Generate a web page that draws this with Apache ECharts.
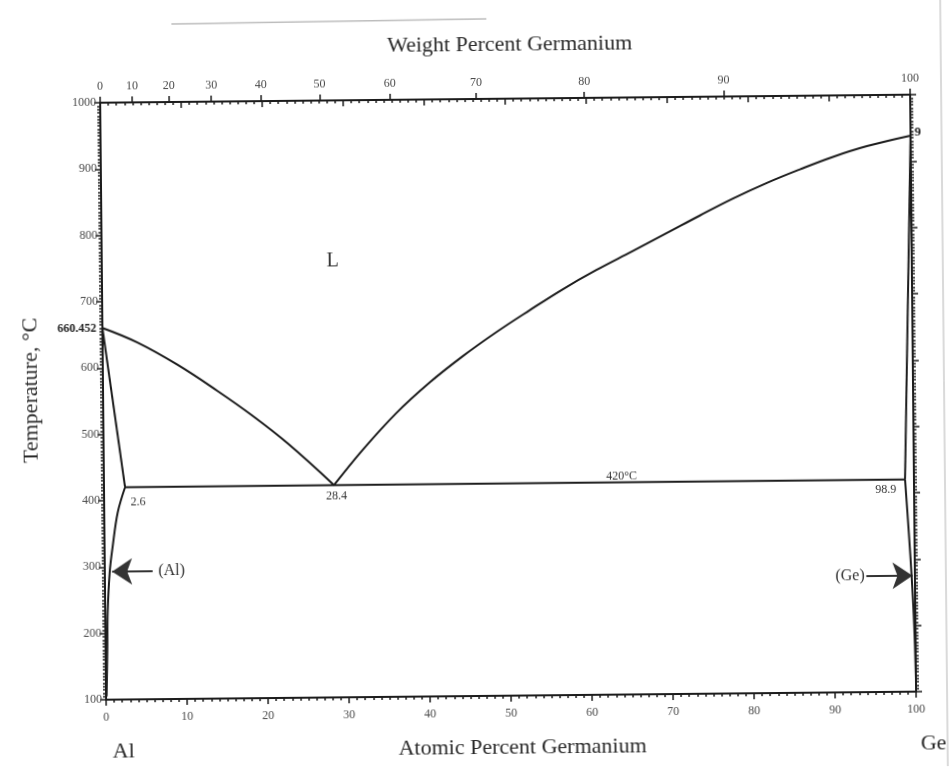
<!DOCTYPE html>
<html>
<head>
<meta charset="utf-8">
<title>Al-Ge phase diagram</title>
<script src="https://cdn.jsdelivr.net/npm/echarts@6/dist/echarts.min.js"></script>
<style>
  html, body { margin: 0; padding: 0; background: #fff; overflow: hidden; }
  #chart { width: 951px; height: 771px; transform: rotate(-0.57deg); transform-origin: 50% 50%; }
</style>
</head>
<body>
<div id="chart"></div>
<script>
// Al-Ge binary phase diagram: composition in atomic % Ge, temperature in degC.
const liquidusAl = [[0, 660.452], [4.3, 638], [9.2, 604], [14.1, 564], [18.3, 527], [22.7, 484], [28.4, 420]];
const liquidusGe = [[28.4, 420], [32.0, 473], [36.2, 528], [40.3, 573], [44.4, 612], [48.6, 648], [52.8, 681],
                    [56.9, 712], [61.0, 740], [65.5, 768], [69.8, 795], [73.9, 821], [78.0, 846], [82.2, 869],
                    [86.3, 889], [90.3, 907], [94.6, 923], [100, 938.3]];
const solidusAl = [[0, 660.452], [2.6, 420]];
const solvusAl = [[2.6, 420], [1.66, 382], [1.0, 331], [0.6, 292], [0.3, 231], [0.22, 180], [0.07, 105]];
const eutecticLine = [[2.6, 420], [98.9, 420]];
const solidusGe = [[100, 938.3], [98.9, 420]];
const solvusGe = [[98.9, 420], [99.3, 340], [99.6, 273], [99.85, 200], [100, 120]];

// arrows pointing to the terminal solid solutions
const arrowAl = [[5.9, 293], [0.9, 293]];
const arrowGe = [[94.0, 275], [99.7, 275]];

// tick values of the upper (weight percent) scale
const weightTicks = [0, 10, 20, 30, 40, 50, 60, 70, 80, 90, 100];

// text notes placed in data coordinates [at.% Ge, degC]
const notes = [
  { text: 'L', at: [28.5, 757], size: 20, align: 'center' },
  { text: '2.6', at: [3.27, 396.7], size: 12, align: 'left' },
  { text: '28.4', at: [28.7, 404], size: 12, align: 'center' },
  { text: '98.9', at: [97.8, 404.8], size: 12, align: 'right' },
  { text: '420°C', at: [63.9, 428.7], size: 12, align: 'center' },
  { text: '(Al)', at: [6.6, 293], size: 16, align: 'left' },
  { text: '(Ge)', at: [93.8, 275], size: 16, align: 'right' }
];

const M_AL = 26.98, M_GE = 72.63;
function wtToAt(w) {
  const a = w / M_GE, b = (100 - w) / M_AL;
  return a / (a + b) * 100;
}
function atToWt(x) {
  const a = x * M_GE, b = (100 - x) * M_AL;
  return a / (a + b) * 100;
}

const FONT = '"Liberation Serif", "DejaVu Serif", serif';
const INK = '#1c1c1c';
const LABEL = '#4a4a4a';

const chart = echarts.init(document.getElementById('chart'), null, { renderer: 'canvas' });

function curve(name, data, smooth) {
  return {
    name: name, type: 'line', data: data, showSymbol: false, symbol: 'none',
    smooth: smooth || false, silent: true, animation: false,
    lineStyle: { color: INK, width: 2 }
  };
}
function arrow(coords) {
  return {
    type: 'lines', coordinateSystem: 'cartesian2d', silent: true, animation: false,
    symbol: ['none', 'arrow'], symbolSize: 20,
    lineStyle: { color: '#333', width: 2, opacity: 1 },
    data: [{ coords: coords }]
  };
}

const plain = v => String(v);

const option = {
  backgroundColor: '#fff',
  animation: false,
  grid: { left: 103, right: 38, top: 99, bottom: 75 },
  xAxis: [
    { // bottom: atomic percent
      type: 'value', position: 'bottom', min: 0, max: 100, interval: 10,
      axisLine: { show: true, onZero: false, lineStyle: { color: INK, width: 2 } },
      axisTick: { show: true, inside: false, length: 6, lineStyle: { color: INK, width: 1.5 } },
      minorTick: { show: true, splitNumber: 10, length: 3, lineStyle: { color: INK, width: 1.5 } },
      axisLabel: { color: LABEL, fontFamily: FONT, fontSize: 12, margin: 12, formatter: plain },
      splitLine: { show: false }
    },
    { // top: weight percent, placed at the matching atomic positions
      type: 'value', position: 'top', min: 0, max: 100,
      axisLine: { show: true, onZero: false, lineStyle: { color: INK, width: 2 } },
      axisTick: { show: true, inside: false, length: 6, customValues: weightTicks.map(wtToAt),
                  lineStyle: { color: INK, width: 1.5 } },
      axisLabel: { show: true, customValues: weightTicks.map(wtToAt), color: LABEL, fontFamily: FONT,
                   fontSize: 12, margin: 10, formatter: v => String(Math.round(atToWt(v))) },
      splitLine: { show: false }
    },
    { // top: atomic percent ticks on the inner side
      type: 'value', position: 'top', min: 0, max: 100, interval: 10,
      axisLine: { show: false, onZero: false },
      axisTick: { show: true, inside: true, length: 6, lineStyle: { color: INK, width: 1.5 } },
      minorTick: { show: true, splitNumber: 10, length: 3, lineStyle: { color: INK, width: 1.5 } },
      axisLabel: { show: false },
      splitLine: { show: false }
    }
  ],
  yAxis: [
    {
      type: 'value', position: 'left', min: 100, max: 1000, interval: 100,
      axisLine: { show: true, onZero: false, lineStyle: { color: INK, width: 2 } },
      axisTick: { show: true, inside: false, length: 6, lineStyle: { color: INK, width: 1.5 } },
      minorTick: { show: true, splitNumber: 20, length: 3, lineStyle: { color: INK, width: 1.5 } },
      axisLabel: { color: LABEL, fontFamily: FONT, fontSize: 12, margin: 4, formatter: plain },
      splitLine: { show: false }
    },
    {
      type: 'value', position: 'right', min: 100, max: 1000, interval: 100,
      axisLine: { show: true, onZero: false, lineStyle: { color: INK, width: 2 } },
      axisTick: { show: true, inside: false, length: 6, lineStyle: { color: INK, width: 1.5 } },
      minorTick: { show: true, splitNumber: 20, length: 3, lineStyle: { color: INK, width: 1.5 } },
      axisLabel: { show: false },
      splitLine: { show: false }
    }
  ],
  series: [
    curve('liquidus (Al side)', liquidusAl, 0.4),
    curve('liquidus (Ge side)', liquidusGe, 0.4),
    curve('solidus (Al)', solidusAl),
    curve('solvus (Al)', solvusAl, 0.35),
    curve('eutectic', eutecticLine),
    curve('solidus (Ge)', solidusGe),
    curve('solvus (Ge)', solvusGe, 0.35),
    arrow(arrowAl),
    arrow(arrowGe)
  ]
};

chart.setOption(option);

// text placed after layout so it can follow the axes
const px = c => chart.convertToPixel({ xAxisIndex: 0, yAxisIndex: 0 }, c);
const graphics = [];
notes.forEach(n => {
  const p = px(n.at);
  graphics.push({
    type: 'text', x: p[0], y: p[1], silent: true,
    style: { text: n.text, font: n.size + 'px ' + FONT, fill: '#333', align: n.align, verticalAlign: 'middle' }
  });
});
const pAl = px([0, 660.452]);
graphics.push({ type: 'text', x: pAl[0] - 6, y: pAl[1] + 1, silent: true,
  style: { text: '660.452', font: 'bold 12px ' + FONT, fill: '#222', align: 'right', verticalAlign: 'middle' } });
const pGe = px([100, 938.3]);
graphics.push({ type: 'text', x: pGe[0] + 4, y: pGe[1] - 3, silent: true,
  style: { text: '9', font: 'bold 13px ' + FONT, fill: '#222', align: 'left', verticalAlign: 'middle' } });

// axis titles and element names
const titles = [
  { text: 'Weight Percent Germanium', x: 513, y: 45, rot: 0 },
  { text: 'Atomic Percent Germanium', x: 519, y: 748, rot: 0 },
  { text: 'Temperature, °C', x: 31, y: 386, rot: Math.PI / 2 },
  { text: 'Al', x: 120, y: 748, rot: 0 },
  { text: 'Ge', x: 930, y: 748, rot: 0 }
];
titles.forEach(t => {
  graphics.push({
    type: 'text', x: t.x, y: t.y, rotation: t.rot, silent: true,
    style: { text: t.text, font: '22px ' + FONT, fill: '#2a2a2a', align: 'center', verticalAlign: 'middle' }
  });
});

// paper edges
graphics.push({ type: 'line', silent: true, shape: { x1: 944, y1: 0, x2: 944, y2: 771 },
  style: { stroke: '#b5b5b5', lineWidth: 1 } });
graphics.push({ type: 'line', silent: true, shape: { x1: 175, y1: 21, x2: 490, y2: 19 },
  style: { stroke: '#bdbdbd', lineWidth: 1.5 } });

chart.setOption({ graphic: graphics });
</script>
</body>
</html>
